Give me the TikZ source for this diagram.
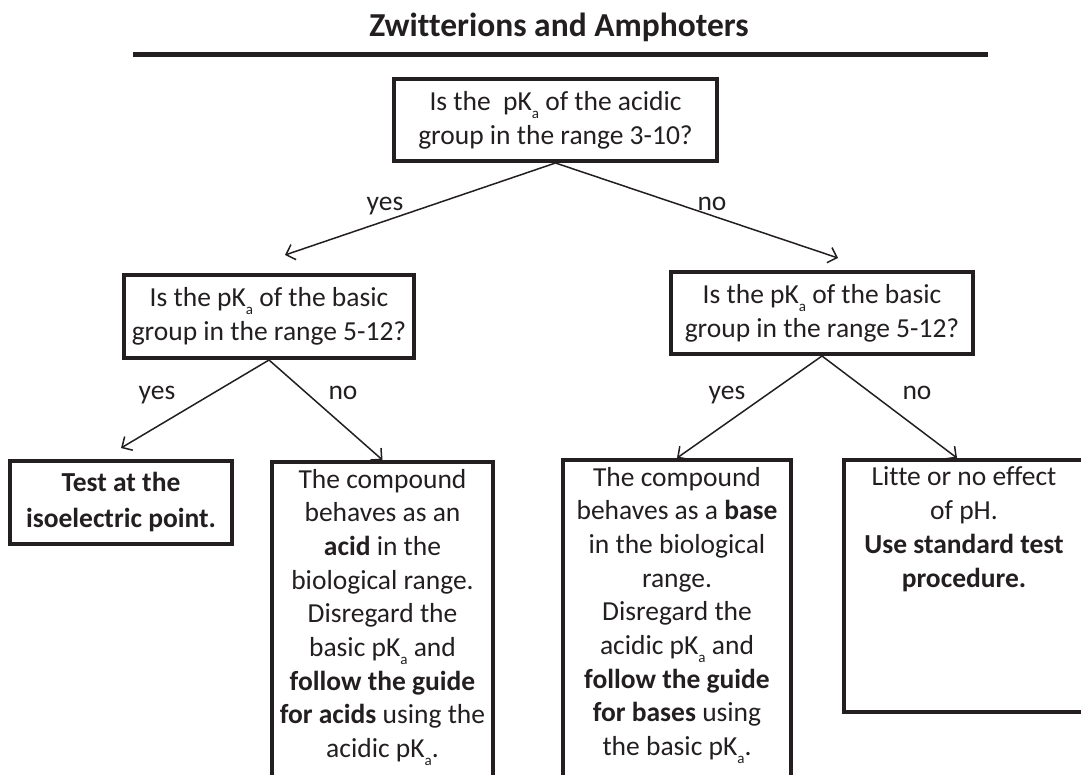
\documentclass[tikz,border=0pt]{standalone}
\usepackage{fontspec}
\setmainfont{Carlito}[Ligatures=NoCommon]
\usepackage{tikz}
\usetikzlibrary{arrows.meta, positioning}
\definecolor{ink}{RGB}{35,31,32}

\newcommand{\pKa}{pK\raisebox{-0.28em}{\fontsize{15}{15}\selectfont a}}
\newcommand{\tallbox}[3]{\parbox[t][#1][t]{#2}{\centering #3}}

\tikzset{
  question/.style={draw=ink, line width=4pt, align=center, inner sep=0pt, anchor=north},
  leaf/.style={draw=ink, line width=4pt, inner xsep=0pt, inner ysep=7pt, anchor=north},
  flow/.style={ink, line width=1.5pt, -{Straight Barb[length=8pt, width=16pt, line width=1.5pt]}},
  answer/.style={text=ink, anchor=base},
}

\begin{document}
\begin{tikzpicture}[x=1pt, y=-1pt, every node/.style={text=ink, font=\fontsize{27.5}{33.7}\selectfont}]
    \useasboundingbox (0,0) rectangle (1081,775);
    \clip (0,0) rectangle (1081,775);

    % title and rule
    \node[font=\bfseries\fontsize{33.5}{40}\selectfont] (title) at (559,27) {Zwitterions and Amphoters};
    \draw[ink, line width=5pt] (133,55) -- (988,55);

    % questions
    \node[question, minimum width=323, minimum height=82] (acidic) at (555.5,77) {Is the~ \pKa{} of the acidic\\group in the range 3-10?};
    \node[question, minimum width=290, minimum height=83] (basicL) at (269,273) {Is the \pKa{} of the basic\\group in the range 5-12?};
    \node[question, minimum width=302, minimum height=82] (basicR) at (822,270) {Is the \pKa{} of the basic\\group in the range 5-12?};

    % outcomes
    \node[question, minimum width=222, minimum height=83, font=\bfseries\fontsize{27.5}{36}\selectfont] (isoel) at (121,459) {Test at the\\isoelectric point.};
    \node[leaf] (acid) at (382.5,460) {\tallbox{330pt}{221pt}{The compound\\behaves as an\\\textbf{acid} in the\\biological range.\\Disregard the\\basic \pKa{} and\\\textbf{follow the guide}\\\textbf{for acids} using the\\acidic \pKa.}};
    \node[leaf] (base) at (677,458) {\tallbox{330pt}{228pt}{The compound\\behaves as a \textbf{base}\\in the biological\\range.\\Disregard the\\acidic \pKa{} and\\\textbf{follow the guide}\\\textbf{for bases} using\\the basic \pKa.}};
    \node[leaf] (effect) at (964,458) {\tallbox{238pt}{240pt}{Litte or no effect\\of pH.\\\textbf{Use standard test}\\\textbf{procedure.}}};

    % connectors
    \draw[flow] (acidic.south) -- ([xshift=16pt,yshift=18pt]basicL.north);
    \draw[flow] (acidic.south) -- ([xshift=16pt,yshift=12pt]basicR.north);
    \draw[flow] (basicL.south) -- ([yshift=11pt]isoel.north);
    \draw[flow] (basicL.south) -- (acid.north);
    \draw[flow] (basicR.south) -- (base.north);
    \draw[flow] (basicR.south) -- ([xshift=-7pt]effect.north);

    % answers
    \node[answer] (yesA) at (385,211) {yes};
    \node[answer] (noA) at (712,211) {no};
    \node[answer] (yesB) at (157,399) {yes};
    \node[answer] (noB) at (343,399) {no};
    \node[answer] (yesC) at (727,399) {yes};
    \node[answer] (noC) at (917,399) {no};
\end{tikzpicture}
\end{document}
